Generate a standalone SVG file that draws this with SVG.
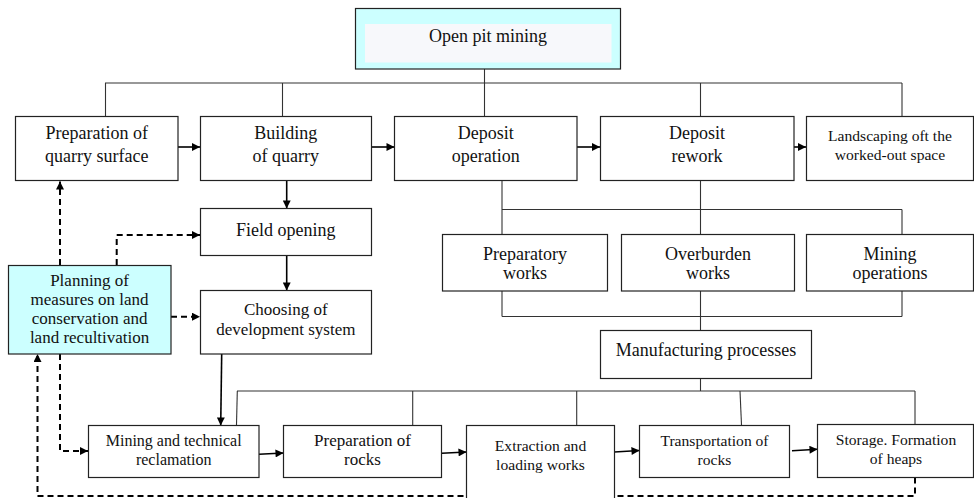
<svg xmlns="http://www.w3.org/2000/svg" width="974" height="498" viewBox="0 0 974 498">
<style>
.box{fill:#ffffff;stroke:#222;stroke-width:1.2}
.cyan{fill:#ccffff;stroke:#222;stroke-width:1.2}
.t{font-family:"Liberation Serif","Times New Roman",serif;fill:#111;text-anchor:middle}
.s18{font-size:18px}
.s17{font-size:17px}
.s16{font-size:16px}
.s155{font-size:15.6px}
.bus{stroke:#333;stroke-width:1.1;fill:none}
.arr{stroke:#000;stroke-width:1.6;fill:none;marker-end:url(#ah)}
.dash{stroke:#000;stroke-width:2;fill:none;stroke-dasharray:6 4;marker-end:url(#ah)}
</style>
<defs>
<marker id="ah" viewBox="0 0 10 10" refX="10" refY="5" markerWidth="10" markerHeight="8" markerUnits="userSpaceOnUse" orient="auto">
<path d="M0,0 L10,5 L0,10 z" fill="#000"/>
</marker>
</defs>
<rect width="974" height="498" fill="#ffffff"/>

<g id="connectors">
<line class="bus" x1="484.5" y1="69" x2="484.5" y2="116"/>
<line class="bus" x1="105" y1="83" x2="902" y2="83"/>
<line class="bus" x1="105.5" y1="83" x2="105.5" y2="116"/>
<line class="bus" x1="282.5" y1="83" x2="282.5" y2="116"/>
<line class="bus" x1="700.5" y1="83" x2="700.5" y2="116"/>
<line class="bus" x1="902" y1="83" x2="902" y2="116"/>
<line class="bus" x1="502" y1="181" x2="502" y2="234"/>
<line class="bus" x1="700.5" y1="181" x2="700.5" y2="234"/>
<line class="bus" x1="502" y1="209.5" x2="902" y2="209.5"/>
<line class="bus" x1="902" y1="209.5" x2="902" y2="234"/>
<line class="bus" x1="502" y1="291" x2="502" y2="316.5"/>
<line class="bus" x1="902" y1="291" x2="902" y2="316.5"/>
<line class="bus" x1="502" y1="316.5" x2="902" y2="316.5"/>
<line class="bus" x1="700.5" y1="291" x2="700.5" y2="330"/>
<line class="bus" x1="700.5" y1="378.5" x2="700.5" y2="391"/>
<line class="bus" x1="237" y1="391" x2="915" y2="391"/>
<line class="bus" x1="237.3" y1="391" x2="236.5" y2="425"/>
<line class="bus" x1="412.7" y1="391" x2="412.7" y2="425"/>
<line class="bus" x1="576.7" y1="391" x2="576.7" y2="425"/>
<line class="bus" x1="740" y1="391" x2="741.5" y2="425"/>
<line class="bus" x1="915" y1="391" x2="915" y2="424.5"/>

<line class="arr" x1="178" y1="147" x2="200" y2="147"/>
<line class="arr" x1="371.5" y1="147" x2="394.5" y2="147"/>
<line class="arr" x1="577" y1="147" x2="600" y2="147"/>
<line class="arr" x1="794" y1="147" x2="806" y2="147"/>
<line class="arr" x1="286.7" y1="181" x2="286.7" y2="208.5"/>
<line class="arr" x1="286.7" y1="255.5" x2="286.7" y2="290.5"/>
<line class="arr" x1="221.7" y1="354" x2="220.7" y2="425.5"/>
<line class="arr" x1="259" y1="454.3" x2="283.5" y2="453"/>
<line class="arr" x1="441.7" y1="453.3" x2="466.5" y2="452"/>
<line class="arr" x1="614.3" y1="452" x2="639.5" y2="450.5"/>
<line class="arr" x1="792" y1="450.7" x2="817.5" y2="449.3"/>

<line class="dash" x1="60" y1="265" x2="60" y2="181.5"/>
<path class="dash" d="M116.7,265 V235 H200"/>
<line class="dash" x1="171" y1="316.7" x2="200" y2="316.7"/>
<path class="dash" d="M60,354 V451 H88"/>
<path class="dash" d="M915,477.5 V496 H37.5 V354"/>
</g>

<g id="n-open-pit">
<rect class="cyan" x="355.5" y="8.5" width="265" height="60.5"/>
<rect x="365" y="24" width="246.5" height="38.5" fill="#f7f8fb"/>
<text class="t s18" x="488" y="42.3">Open pit mining</text>
</g>

<g id="n-prep-quarry">
<rect class="box" x="15.5" y="116.5" width="162.5" height="64"/>
<text class="t s18" x="96.8" y="139">Preparation of</text>
<text class="t s18" x="96.8" y="161.5">quarry surface</text>
</g>
<g id="n-building">
<rect class="box" x="200.5" y="116.5" width="171" height="64"/>
<text class="t s18" x="285.8" y="139">Building</text>
<text class="t s18" x="285.8" y="161.5">of quarry</text>
</g>
<g id="n-deposit-op">
<rect class="box" x="394.5" y="116.5" width="182.5" height="64"/>
<text class="t s18" x="485.7" y="139">Deposit</text>
<text class="t s18" x="485.7" y="161.5">operation</text>
</g>
<g id="n-deposit-rework">
<rect class="box" x="600.5" y="116.5" width="193.5" height="64"/>
<text class="t s18" x="697" y="139">Deposit</text>
<text class="t s18" x="697" y="161.5">rework</text>
</g>
<g id="n-landscaping">
<rect class="box" x="806.5" y="116.5" width="167" height="64"/>
<text class="t s155" x="890" y="141">Landscaping oft the</text>
<text class="t s155" x="890" y="159.5">worked-out space</text>
</g>

<g id="n-field-opening">
<rect class="box" x="200.5" y="208.5" width="171" height="47"/>
<text class="t s18" x="285.8" y="235.5">Field opening</text>
</g>
<g id="n-choosing">
<rect class="box" x="200.5" y="290.5" width="171" height="63.5"/>
<text class="t s17" x="285.8" y="315">Choosing of</text>
<text class="t s17" x="285.8" y="334.5">development system</text>
</g>
<g id="n-planning">
<rect class="cyan" x="8.5" y="265.5" width="162.5" height="88.5"/>
<text class="t s17" x="89.6" y="285.7">Planning of</text>
<text class="t s17" x="89.6" y="305">measures on land</text>
<text class="t s17" x="89.6" y="324.3">conservation and</text>
<text class="t s17" x="89.6" y="343.3">land recultivation</text>
</g>

<g id="n-preparatory">
<rect class="box" x="442.5" y="234.5" width="165" height="56.5"/>
<text class="t s18" x="525" y="259.5">Preparatory</text>
<text class="t s18" x="525" y="279">works</text>
</g>
<g id="n-overburden">
<rect class="box" x="621.5" y="234.5" width="173" height="56.5"/>
<text class="t s18" x="708" y="259.5">Overburden</text>
<text class="t s18" x="708" y="279">works</text>
</g>
<g id="n-mining-ops">
<rect class="box" x="806.5" y="234.5" width="167" height="56.5"/>
<text class="t s18" x="890" y="259.5">Mining</text>
<text class="t s18" x="890" y="279">operations</text>
</g>

<g id="n-manufacturing">
<rect class="box" x="600.5" y="330.5" width="211" height="48"/>
<text class="t s18" x="706" y="356">Manufacturing processes</text>
</g>

<g id="n-mining-tech">
<rect class="box" x="88.5" y="425.5" width="170.5" height="52"/>
<text class="t s16" x="173.7" y="446">Mining and technical</text>
<text class="t s16" x="173.7" y="465">reclamation</text>
</g>
<g id="n-prep-rocks">
<rect class="box" x="283.5" y="425.5" width="158" height="52"/>
<text class="t s17" x="362.5" y="446">Preparation of</text>
<text class="t s17" x="362.5" y="465">rocks</text>
</g>
<g id="n-extraction">
<rect class="box" x="466.5" y="425.5" width="148" height="80"/>
<text class="t s155" x="540.5" y="451">Extraction and</text>
<text class="t s155" x="540.5" y="470">loading works</text>
</g>
<g id="n-transport">
<rect class="box" x="639.5" y="425.5" width="150" height="52"/>
<text class="t s155" x="714.5" y="445.5">Transportation of</text>
<text class="t s155" x="714.5" y="465">rocks</text>
</g>
<g id="n-storage">
<rect class="box" x="817.5" y="424.5" width="156" height="53"/>
<text class="t s155" x="896" y="445">Storage. Formation</text>
<text class="t s155" x="896" y="463.5">of heaps</text>
</g>
</svg>
